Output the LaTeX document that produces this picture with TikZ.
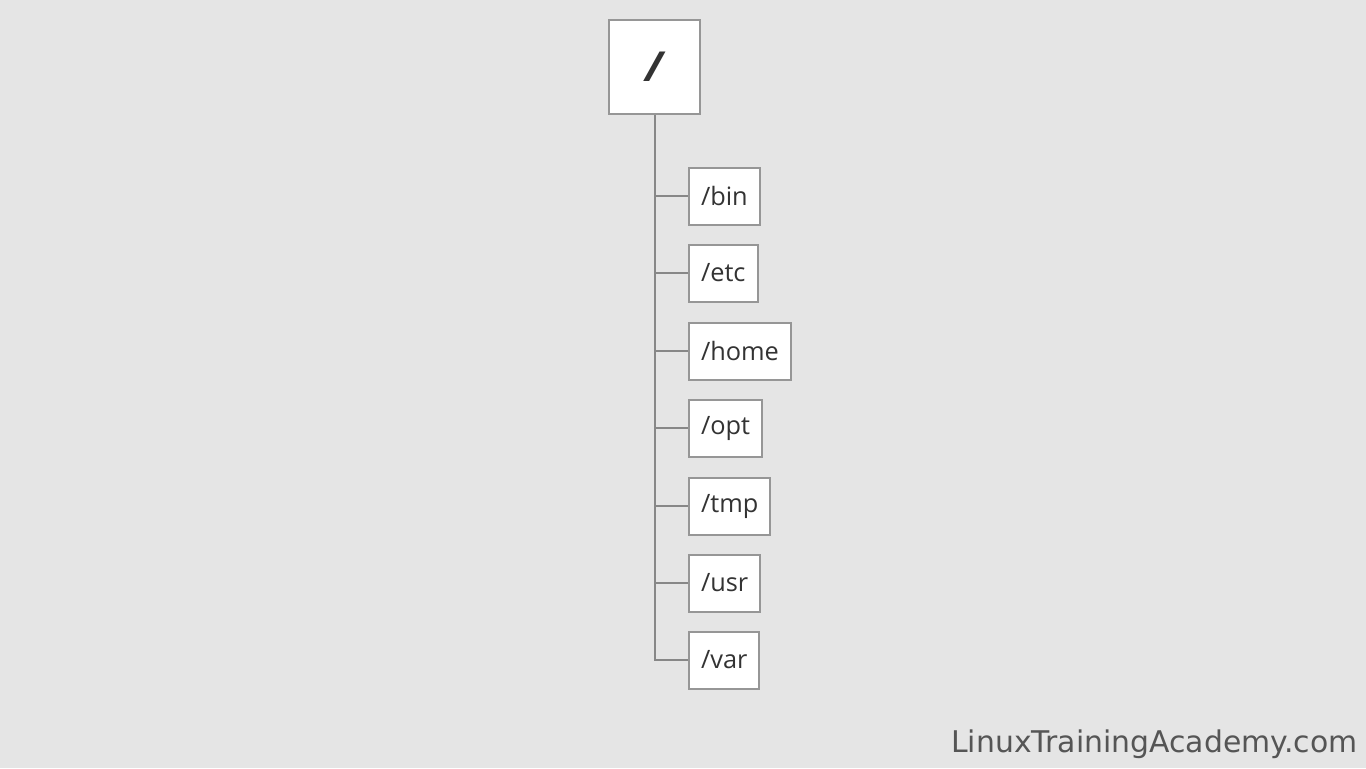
\documentclass[tikz,border=0pt]{standalone}
\usepackage{fontspec}
\setmainfont{Open Sans}
\newfontfamily\markfont{DejaVu Sans}
\usetikzlibrary{positioning}
\definecolor{bggray}{RGB}{229,229,229}
\definecolor{boxgray}{RGB}{150,150,150}
\definecolor{linegray}{RGB}{135,135,135}
\definecolor{textgray}{RGB}{51,51,51}
\definecolor{markgray}{RGB}{85,85,85}
\tikzset{
  root-node/.style={draw=boxgray, line width=1.5pt, fill=white,
    minimum width=68pt, minimum height=70.5pt, inner sep=0pt,
    font=\fontsize{31}{33}\selectfont\bfseries\itshape, text=textgray},
  dir-node/.style={draw=boxgray, line width=1.5pt, fill=white,
    minimum height=42.75pt, inner xsep=9pt, anchor=west,
    font=\fontsize{19}{21}\selectfont, text=textgray},
  tree-line/.style={draw=linegray, line width=1.5pt},
  mark-text/.style={font=\markfont\fontsize{22.4}{24}\selectfont, text=markgray, anchor=south east}
}
\begin{document}
\begin{tikzpicture}[x=0.75pt, y=-0.75pt]
\fill[bggray] (0,0) rectangle (1366,768);
\useasboundingbox (0,0) rectangle (1366,768);

% Root directory
\node[root-node] (root) at (654.5,67) {/};

% Top-level directories
\node[dir-node] (bin)  at (688,196) {/bin};
\node[dir-node] (etc)  at (688,273) {/etc};
\node[dir-node] (home) at (688,351) {/home};
\node[dir-node] (opt)  at (688,428) {/opt};
\node[dir-node] (tmp)  at (688,506) {/tmp};
\node[dir-node] (usr)  at (688,583) {/usr};
\node[dir-node] (var)  at (688,660) {/var};

% Trunk and branches
\draw[tree-line] (root.south) |- (var.west);
\foreach \dir in {bin,etc,home,opt,tmp,usr}
  \draw[tree-line] (root.south |- \dir.west) -- (\dir.west);

% Watermark
\node[mark-text] (mark) at (1362,763) {LinuxTrainingAcademy.com};
\end{tikzpicture}
\end{document}
